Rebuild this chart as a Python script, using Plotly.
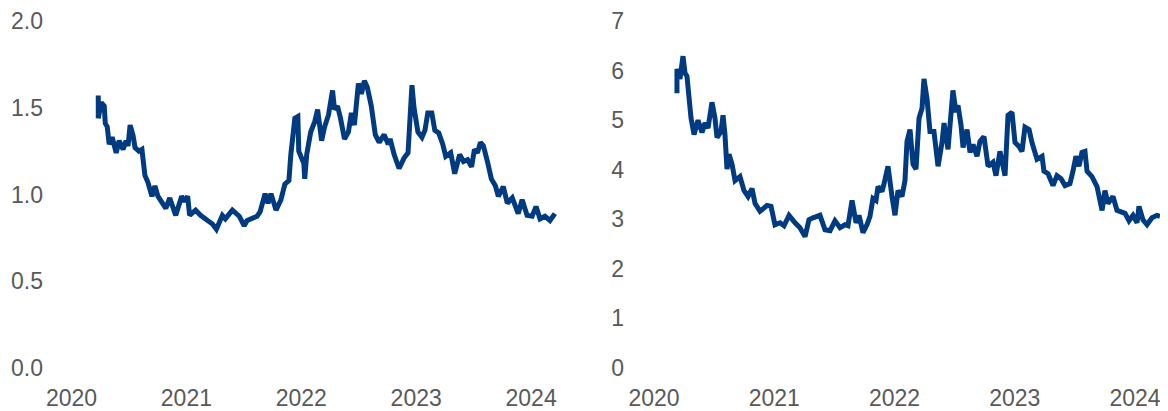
import plotly.graph_objects as go
from plotly.subplots import make_subplots

# Left panel: time in decimal years, values
left_t = [2020.233, 2020.233, 2020.259, 2020.285, 2020.294, 2020.311, 2020.328, 2020.354, 2020.389, 2020.415,
          2020.449, 2020.475, 2020.492, 2020.510, 2020.536, 2020.553, 2020.587, 2020.613, 2020.639, 2020.665,
          2020.700, 2020.726, 2020.752, 2020.778, 2020.821, 2020.855, 2020.907, 2020.959, 2020.985, 2021.011,
          2021.028, 2021.080, 2021.123, 2021.184, 2021.227, 2021.261, 2021.313, 2021.339, 2021.400, 2021.460,
          2021.503, 2021.529, 2021.572, 2021.615, 2021.641, 2021.685, 2021.710, 2021.736, 2021.780, 2021.823,
          2021.857, 2021.892, 2021.909, 2021.944, 2021.970, 2021.978, 2022.022, 2022.030, 2022.047, 2022.082,
          2022.117, 2022.142, 2022.177, 2022.203, 2022.237, 2022.272, 2022.289, 2022.315, 2022.341, 2022.376,
          2022.410, 2022.436, 2022.462, 2022.497, 2022.523, 2022.549, 2022.574, 2022.609, 2022.644, 2022.678,
          2022.721, 2022.756, 2022.773, 2022.808, 2022.851, 2022.894, 2022.929, 2022.963, 2022.981, 2023.015,
          2023.050, 2023.076, 2023.101, 2023.136, 2023.162, 2023.196, 2023.231, 2023.257, 2023.300, 2023.335,
          2023.378, 2023.412, 2023.447, 2023.482, 2023.507, 2023.533, 2023.559, 2023.585, 2023.620, 2023.654,
          2023.689, 2023.715, 2023.758, 2023.793, 2023.836, 2023.888, 2023.922, 2023.965, 2024.009, 2024.043,
          2024.078, 2024.121, 2024.164, 2024.207]
left_v = [1.57, 1.44, 1.53, 1.51, 1.41, 1.39, 1.29, 1.33, 1.24, 1.31,
          1.26, 1.31, 1.28, 1.40, 1.34, 1.27, 1.25, 1.26, 1.11, 1.07,
          0.99, 1.05, 0.99, 0.96, 0.92, 0.98, 0.88, 0.99, 0.96, 0.99,
          0.88, 0.91, 0.88, 0.85, 0.83, 0.80, 0.88, 0.86, 0.91, 0.875,
          0.82, 0.85, 0.86, 0.875, 0.90, 1.005, 0.95, 1.005, 0.91, 0.97,
          1.06, 1.08, 1.23, 1.44, 1.45, 1.25, 1.18, 1.09, 1.23, 1.36,
          1.42, 1.49, 1.31, 1.39, 1.46, 1.60, 1.49, 1.51, 1.44, 1.32,
          1.36, 1.47, 1.40, 1.64, 1.58, 1.655, 1.62, 1.51, 1.345, 1.30,
          1.345, 1.29, 1.32, 1.23, 1.15, 1.21, 1.24, 1.63, 1.50, 1.36,
          1.33, 1.37, 1.47, 1.47, 1.37, 1.355, 1.29, 1.22, 1.24, 1.12,
          1.23, 1.19, 1.20, 1.16, 1.26, 1.24, 1.30, 1.28, 1.19, 1.09,
          1.05, 0.99, 1.045, 0.95, 0.98, 0.89, 0.97, 0.88, 0.875, 0.93,
          0.86, 0.875, 0.85, 0.89]

# Right panel
right_t = [2020.191, 2020.191, 2020.216, 2020.241, 2020.258, 2020.274, 2020.308, 2020.333, 2020.366, 2020.399,
           2020.424, 2020.449, 2020.482, 2020.507, 2020.524, 2020.557, 2020.574, 2020.590, 2020.607, 2020.624,
           2020.649, 2020.674, 2020.715, 2020.748, 2020.782, 2020.815, 2020.840, 2020.881, 2020.940, 2020.973,
           2021.006, 2021.048, 2021.081, 2021.123, 2021.173, 2021.214, 2021.256, 2021.289, 2021.322, 2021.356,
           2021.380, 2021.422, 2021.464, 2021.505, 2021.547, 2021.588, 2021.613, 2021.647, 2021.680, 2021.705,
           2021.738, 2021.771, 2021.796, 2021.821, 2021.846, 2021.863, 2021.896, 2021.913, 2021.946, 2021.979,
           2022.004, 2022.029, 2022.062, 2022.087, 2022.104, 2022.129, 2022.154, 2022.179, 2022.204, 2022.229,
           2022.245, 2022.270, 2022.295, 2022.328, 2022.362, 2022.395, 2022.412, 2022.445, 2022.470, 2022.486,
           2022.511, 2022.528, 2022.553, 2022.570, 2022.603, 2022.628, 2022.653, 2022.686, 2022.711, 2022.744,
           2022.778, 2022.819, 2022.844, 2022.877, 2022.919, 2022.944, 2022.977, 2023.002, 2023.035, 2023.060,
           2023.085, 2023.119, 2023.143, 2023.185, 2023.227, 2023.243, 2023.277, 2023.318, 2023.351, 2023.385,
           2023.418, 2023.459, 2023.484, 2023.509, 2023.534, 2023.559, 2023.584, 2023.601, 2023.642, 2023.684,
           2023.726, 2023.750, 2023.775, 2023.817, 2023.850, 2023.884, 2023.917, 2023.950, 2023.983, 2024.017,
           2024.033, 2024.066, 2024.100, 2024.141, 2024.183, 2024.208]
right_v = [5.54, 6.03, 5.83, 6.29, 5.95, 5.89, 5.04, 4.71, 5.00, 4.75,
           4.94, 4.84, 5.36, 5.04, 4.65, 4.77, 5.10, 4.71, 4.01, 4.31,
           4.11, 3.78, 3.86, 3.58, 3.46, 3.62, 3.32, 3.16, 3.28, 3.26,
           2.89, 2.93, 2.87, 3.08, 2.93, 2.83, 2.65, 2.99, 3.03, 3.06,
           3.08, 2.79, 2.77, 2.97, 2.83, 2.89, 2.87, 3.38, 2.93, 3.08,
           2.73, 2.89, 3.06, 3.42, 3.38, 3.66, 3.56, 3.72, 4.07, 3.46,
           3.08, 3.58, 3.46, 3.78, 4.57, 4.81, 4.11, 4.01, 5.04, 5.24,
           5.83, 5.44, 4.77, 4.77, 4.07, 4.55, 4.94, 4.41, 5.14, 5.60,
           5.16, 5.30, 4.90, 4.45, 4.81, 4.35, 4.51, 4.27, 4.57, 4.67,
           4.07, 4.15, 3.88, 4.37, 3.88, 5.10, 5.16, 4.55, 4.47, 4.37,
           4.86, 4.81, 4.55, 4.21, 4.27, 3.97, 3.92, 3.68, 3.88, 3.82,
           3.68, 3.72, 3.97, 4.27, 4.07, 4.35, 4.37, 3.97, 3.86, 3.66,
           3.18, 3.58, 3.32, 3.46, 3.18, 3.16, 3.12, 2.97, 3.08, 2.93,
           3.26, 2.99, 2.89, 3.03, 3.08, 3.06]

year_ticks = [2020, 2021, 2022, 2023, 2024]
left_yticks = [0.0, 0.5, 1.0, 1.5, 2.0]
right_yticks = [0, 1, 2, 3, 4, 5, 6, 7]

LINE = "#003A80"
GREY = "#595959"
FONT = "Liberation Sans, Arial, sans-serif"
W, H = 1160, 403

fig = make_subplots(rows=1, cols=2)
fig.add_trace(go.Scatter(x=left_t, y=left_v, mode="lines",
                         line=dict(color=LINE, width=5), showlegend=False), row=1, col=1)
fig.add_trace(go.Scatter(x=right_t, y=right_v, mode="lines",
                         line=dict(color=LINE, width=5), showlegend=False), row=1, col=2)

axis_common = dict(showgrid=False, zeroline=False, showline=False, ticks="",
                   ticklabeloverflow="allow", automargin=False,
                   tickfont=dict(family=FONT, size=23, color=GREY))

fig.update_xaxes(**axis_common, tickvals=year_ticks, ticktext=[str(y) for y in year_ticks],
                 ticklabelstandoff=14)
fig.update_xaxes(domain=[36 / W, 572 / W], range=[2019.7607, 2024.4256], row=1, col=1)
fig.update_xaxes(domain=[617 / W, 1157 / W], range=[2019.7588, 2024.2494], row=1, col=2)

fig.update_yaxes(**axis_common)
fig.update_yaxes(range=[0, 2], tickvals=left_yticks, ticktext=[f"{v:.1f}" for v in left_yticks],
                 row=1, col=1)
fig.update_yaxes(range=[0, 7], tickvals=right_yticks, ticktext=[str(v) for v in right_yticks],
                 row=1, col=2)

fig.update_layout(width=W, height=H, margin=dict(l=0, r=0, t=13, b=43),
                  paper_bgcolor="white", plot_bgcolor="white",
                  font=dict(family=FONT, color=GREY))

fig.write_html("out.html")
